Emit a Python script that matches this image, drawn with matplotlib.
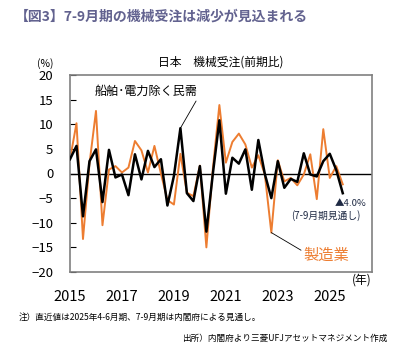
import matplotlib
matplotlib.use("Agg")
import matplotlib.pyplot as plt
import numpy as np

plt.rcParams["font.family"] = ["Noto Sans CJK JP", "DejaVu Sans"]

# quarterly, 2015Q1 .. 2025Q3 (last point = Cabinet Office outlook)
start_year = 2015
core_orders = [
    2.9, 5.6, -8.7, 2.5, 4.9, -5.8, 4.8, -0.8, -0.2, -4.4,
    3.9, -1.2, 4.6, 1.3, 2.9, -6.5, -0.5, 9.2, -4.0, -5.6,
    1.5, -11.8, 0.0, 10.8, -4.1, 3.2, 2.0, 4.9, -3.3, 6.8,
    -0.1, -5.0, 2.5, -2.9, -1.1, -1.7, 4.1, -0.2, -0.6, 2.5,
    4.0, 0.7, -4.0,
]
manufacturing = [
    2.9, 10.2, -13.3, 2.0, 12.7, -10.5, 0.8, 1.5, 0.2, 1.2,
    6.6, 4.7, 0.2, 5.6, 0.0, -5.4, -6.3, 4.0, -3.9, -4.6,
    1.6, -15.0, 1.0, 13.9, 2.2, 6.4, 8.1, 5.9, 1.2, 3.7,
    -0.2, -12.0, 2.7, -1.6, -0.9, -2.4, -0.2, 3.9, -5.2, 9.0,
    -0.9, 1.5, -2.2,
]
year_ticks = [2015, 2017, 2019, 2021, 2023, 2025]

x = start_year + np.arange(len(core_orders)) / 4

ORANGE = "#ED7D31"
NAVY = "#1F2A44"

fig = plt.figure(figsize=(4.13, 3.47), dpi=100)
ax = fig.add_axes([0.1695, 0.2161, 0.7312, 0.5678])

ax.axhline(0, color="black", lw=1.0, zorder=1)
ax.plot(x, manufacturing, color=ORANGE, lw=1.4, zorder=2)
ax.plot(x, core_orders, color="black", lw=1.8, zorder=3)

ax.set_xlim(start_year, start_year + 46.5 / 4)
ax.set_ylim(-20, 20)
ax.set_yticks(np.arange(-20, 21, 5))
ax.set_xticks(year_ticks)
ax.set_xticklabels([str(y) for y in year_ticks])
ax.tick_params(axis="y", direction="in", length=4, labelsize=9.5, pad=12)
ax.tick_params(axis="x", length=0, labelsize=10.5, pad=13)
for s in ax.spines.values():
    s.set_color("#808080")
    s.set_linewidth(1.2)

# annotations
ax.annotate("船舶･電力除く民需", xy=(x[17], core_orders[17]),
            xytext=(2015.95, 16.6), fontsize=8.7, color="black",
            ha="left", va="center",
            arrowprops=dict(arrowstyle="-", color="black", lw=0.6,
                            shrinkA=0, shrinkB=0, relpos=(1.0, 0.0)))
ax.annotate("製造業", xy=(x[31], manufacturing[31]),
            xytext=(2024.0, -16.6), fontsize=11, color=ORANGE,
            ha="left", va="center",
            arrowprops=dict(arrowstyle="-", color="black", lw=0.6,
                            shrinkA=0, shrinkB=0, relpos=(0.0, 0.7)))
ax.text(2025.2, -6.0, "▲4.0%", fontsize=6.8, color=NAVY, ha="left", va="center")
ax.text(2026.2, -8.6, "(7-9月期見通し)", fontsize=7, color=NAVY,
        ha="right", va="center")

fig.text(0.035, 0.951, "【図3】7-9月期の機械受注は減少が見込まれる",
         fontsize=10, fontweight="bold", color="#62628F", ha="left", va="center")
fig.text(0.535, 0.822, "日本　機械受注(前期比)", fontsize=8.5, ha="center", va="center")
fig.text(0.11, 0.818, "(%)", fontsize=7.5, ha="center", va="center")
fig.text(0.875, 0.192, "(年)", fontsize=8.5, ha="center", va="center")
fig.text(0.045, 0.086, "注）直近値は2025年4-6月期、7-9月期は内閣府による見通し。",
         fontsize=6.2, ha="left", va="center")
fig.text(0.937, 0.026, "出所）内閣府より三菱UFJアセットマネジメント作成",
         fontsize=6.2, ha="right", va="center")

fig.savefig("out.png", dpi=100)
